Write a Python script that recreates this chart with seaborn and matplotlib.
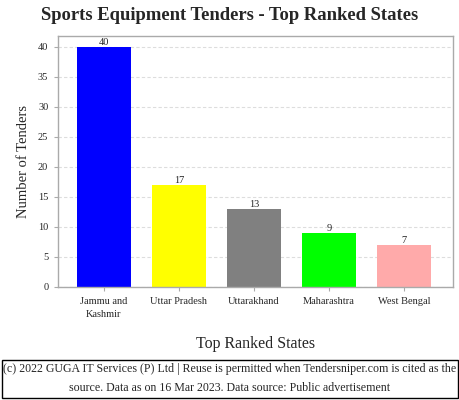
import matplotlib
matplotlib.use("Agg")
import matplotlib.pyplot as plt
import seaborn as sns
import pandas as pd
from matplotlib.patches import Rectangle

states = ["Jammu and\nKashmir", "Uttar Pradesh", "Uttarakhand", "Maharashtra", "West Bengal"]
tenders = [40, 17, 13, 9, 7]
colors = ["#0000FF", "#FFFF00", "#808080", "#00FF00", "#FFAAAA"]
yticks = [0, 5, 10, 15, 20, 25, 30, 35, 40]

sns.set_style("white")
plt.rcParams['font.family'] = ['Liberation Serif', 'DejaVu Serif']

df = pd.DataFrame({"State": states, "Tenders": tenders})

fig = plt.figure(figsize=(4.6, 4.0), dpi=100)
ax = fig.add_axes([58/460, 1-287/400, (453-58)/460, (287-36)/400])
sns.barplot(data=df, x="State", y="Tenders", hue="State", palette=colors,
            width=0.72, saturation=1, legend=False, ax=ax, zorder=2, linewidth=0)
ax.set_xlim(-0.613, 4.653)
ax.set_ylim(0, 41.8)
ax.set_yticks(yticks)
ax.yaxis.grid(True, linestyle=(0, (3, 2)), color="#dddddd", linewidth=0.8, zorder=0)
ax.set_axisbelow(True)
for s in ax.spines.values():
    s.set_color("#aaaaaa")
    s.set_linewidth(1)
ax.tick_params(axis="both", labelsize=7.5, length=3, color="#aaaaaa", direction="out",
               left=True, bottom=True, pad=4)
for c in ax.containers:
    ax.bar_label(c, fontsize=7.5, padding=0)
ax.set_ylabel("Number of Tenders", fontsize=10.5, labelpad=6)
ax.set_xlabel("Top Ranked States", fontsize=11.5, labelpad=12)
for lbl in ax.get_xticklabels():
    lbl.set_linespacing(1.6)

fig.text(0.5, 1-16/400, "Sports Equipment Tenders - Top Ranked States",
         ha="center", va="center", fontsize=13.4, fontweight="bold")
fig.patches.append(Rectangle((2/460, 2/400), 456/460, 38/400, transform=fig.transFigure,
                             fill=False, edgecolor="black", linewidth=1))
fig.text(0.5, 1-369/400, "(c) 2022 GUGA IT Services (P) Ltd | Reuse is permitted when Tendersniper.com is cited as the",
         ha="center", va="center", fontsize=8.6)
fig.text(0.5, 1-388/400, "source. Data as on 16 Mar 2023. Data source: Public advertisement",
         ha="center", va="center", fontsize=8.6)
fig.savefig("out.png", dpi=100)
